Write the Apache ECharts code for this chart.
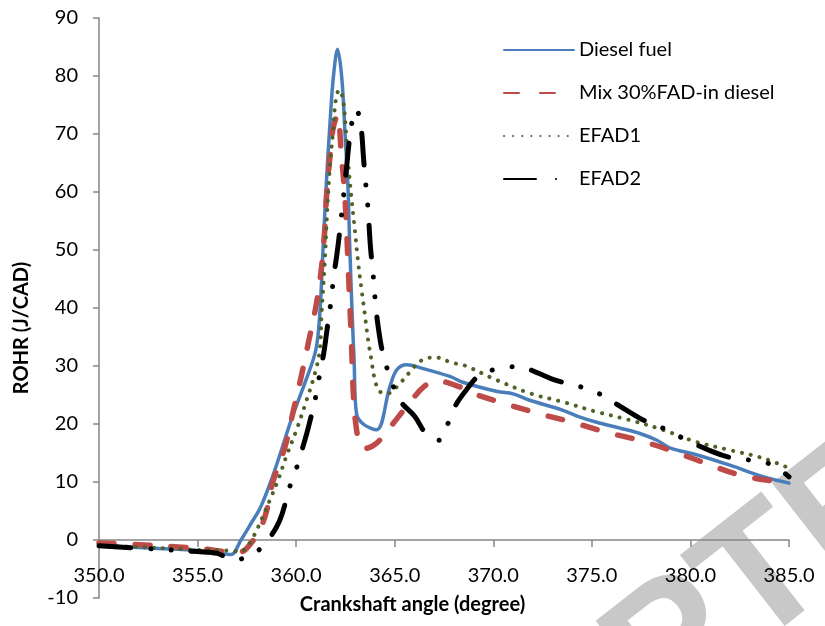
<!DOCTYPE html>
<html>
<head>
<meta charset="utf-8">
<title>ROHR vs crankshaft angle</title>
<script src="https://cdn.jsdelivr.net/npm/echarts@6/dist/echarts.min.js"></script>
<style>
  html, body { margin: 0; padding: 0; background: #fff; }
  #chart { width: 825px; height: 626px; }
</style>
</head>
<body>
<div id="chart"></div>
<script>
// Rate of heat release (J/CAD) against crankshaft angle (degree)
const dieselX = [350, 352, 354, 355, 356, 356.7, 357.2, 357.7, 358.2, 358.8, 359.3, 359.8, 360.5, 361.0, 361.2, 361.37, 361.54, 361.72, 361.88, 362.1, 362.32, 362.48, 362.62, 362.72, 362.84, 362.94, 363.06, 363.4, 364.08, 364.75, 365.1, 365.6, 366.4, 367.8, 368.45, 370.2, 371.0, 371.85, 373.5, 374.4, 375.24, 376.4, 377.4, 378.3, 378.95, 380.3, 382.0, 383.7, 385];
const dieselY = [-1.0, -1.3, -1.6, -1.8, -2.2, -2.5, 0.0, 2.8, 5.7, 10.9, 16.0, 21.2, 27.6, 32.8, 39.0, 50.6, 62.0, 72.0, 79.5, 84.6, 79.5, 70.0, 61.5, 50.6, 39.0, 31.0, 21.8, 20.0, 19.0, 26.4, 29.3, 30.2, 29.6, 28.2, 27.2, 25.6, 25.2, 24.1, 22.4, 21.2, 20.3, 19.3, 18.4, 17.2, 15.9, 14.7, 12.9, 10.9, 9.8];

const mixX = [350, 352, 354, 355.5, 356.5, 357.2, 357.65, 358.16, 358.5, 358.8, 359.43, 359.84, 360.27, 360.62, 361.03, 361.29, 361.45, 361.54, 361.7, 361.86, 362.1, 362.3, 362.45, 362.56, 362.64, 362.72, 362.8, 362.9, 363.0, 363.25, 363.5, 364.08, 364.8, 365.7, 366.5, 367.2, 368.3, 368.96, 370.5, 372.2, 374.0, 375.7, 377.4, 378.95, 380.8, 382.5, 384.5, 385];
const mixY = [-0.5, -0.8, -1.2, -1.6, -2.0, -2.0, -0.8, 1.8, 5.0, 9.8, 16.0, 22.0, 28.4, 34.0, 40.8, 47.1, 53.4, 59.2, 65.5, 70.7, 73.3, 66.0, 60.3, 53.4, 47.1, 40.8, 34.5, 25.3, 20.7, 16.1, 15.8, 16.7, 19.6, 23.4, 26.5, 27.4, 26.4, 25.3, 23.6, 21.9, 20.3, 18.6, 17.2, 15.5, 13.2, 11.2, 10.0, 9.8];

const efad1X = [350, 352, 355, 356.5, 357.15, 357.65, 358.0, 358.16, 358.67, 359.08, 359.5, 360.02, 360.53, 360.95, 361.2, 361.29, 361.45, 361.57, 361.7, 361.88, 362.0, 362.18, 362.38, 362.52, 362.64, 362.8, 362.98, 363.15, 363.32, 363.48, 363.65, 363.82, 364.0, 364.24, 364.67, 365.26, 365.85, 366.2, 366.6, 367.03, 367.96, 368.47, 370.16, 371.85, 373.53, 375.23, 376.9, 378.6, 380.3, 382.0, 383.7, 385];
const efad1Y = [-1.0, -1.2, -1.7, -1.8, -2.0, -0.5, 1.7, 2.9, 6.9, 10.3, 14.4, 19.0, 24.1, 28.7, 32.8, 39.0, 47.7, 56.3, 63.8, 70.7, 75.6, 77.6, 75.9, 70.7, 65.0, 59.2, 53.4, 47.7, 43.1, 39.0, 34.5, 31.0, 27.5, 25.6, 25.3, 27.0, 29.3, 30.6, 31.3, 31.5, 30.5, 30.2, 27.6, 25.3, 23.8, 22.1, 20.7, 19.0, 16.9, 15.5, 14.1, 12.4];

const efad2X = [350, 353, 355, 356, 356.8, 357.3, 357.8, 358.57, 359.17, 359.68, 360.02, 360.32, 360.61, 361.03, 361.2, 361.4, 361.54, 361.8, 361.9, 362.05, 362.2, 362.38, 362.55, 362.72, 362.89, 363.05, 363.2, 363.32, 363.4, 363.48, 363.57, 363.65, 363.77, 363.9, 364.04, 364.16, 364.33, 364.58, 365.26, 366.02, 366.58, 367.3, 367.63, 368.05, 368.64, 369.3, 370.33, 371.34, 372.19, 373.1, 374.1, 375.15, 376.75, 377.6, 378.6, 379.46, 381.15, 382.16, 383.2, 384.2, 385];
const efad2Y = [-1.0, -1.6, -2.0, -2.3, -3.4, -3.2, -2.6, 0.0, 3.4, 9.2, 12.4, 15.8, 19.3, 25.3, 28.7, 32.2, 35.6, 42.0, 45.4, 48.8, 52.9, 58.6, 64.0, 69.5, 73.0, 74.3, 73.0, 70.4, 66.7, 63.2, 60.0, 56.9, 50.5, 46.0, 40.2, 36.8, 33.2, 29.9, 24.1, 21.3, 18.4, 17.2, 19.5, 23.0, 25.9, 28.4, 29.6, 29.9, 28.9, 27.6, 26.7, 25.6, 22.4, 20.7, 19.3, 17.8, 15.2, 14.1, 13.7, 12.9, 10.9];

const seriesNames = ['Diesel fuel', 'Mix 30%FAD-in diesel', 'EFAD1', 'EFAD2'];
const xMin = 350, xMax = 385, xStep = 5;
const yMin = -10, yMax = 90, yStep = 10;

const pairs = (xs, ys) => xs.map((x, i) => [x, ys[i]]);

const FONT = 'Lato';
const AXIS_GREY = '#868686';

const chart = echarts.init(document.getElementById('chart'), null, { renderer: 'canvas' });

function lineSeries(name, data, color, width, type) {
  return {
    name: name,
    type: 'line',
    data: data,
    symbol: 'none',
    smooth: 0.35,
    animation: false,
    lineStyle: { color: color, width: width, type: type, cap: 'round', join: 'round' },
    itemStyle: { color: color }
  };
}

chart.setOption({
  backgroundColor: '#ffffff',
  animation: false,
  grid: { left: 99, right: 36, top: 18, bottom: 28, containLabel: false, outerBoundsMode: 'none' },
  xAxis: {
    type: 'value',
    min: xMin, max: xMax, interval: xStep,
    axisLine: { onZero: true, lineStyle: { color: AXIS_GREY, width: 1.5 } },
    axisTick: { show: true, length: 7, lineStyle: { color: AXIS_GREY, width: 1.5 } },
    // tick labels sit just under the zero line, above the lower plot edge
    axisLabel: {
      margin: -32, color: '#000', fontFamily: FONT, fontSize: 20,
      formatter: v => v.toFixed(1)
    },
    splitLine: { show: false }
  },
  yAxis: {
    type: 'value',
    min: yMin, max: yMax, interval: yStep,
    axisLine: { show: true, onZero: false, lineStyle: { color: AXIS_GREY, width: 1.5 } },
    axisTick: { show: true, length: 6, lineStyle: { color: AXIS_GREY, width: 1.5 } },
    axisLabel: { margin: 21, color: '#000', fontFamily: FONT, fontSize: 20 },
    splitLine: { show: false }
  },
  legend: {
    data: seriesNames,
    orient: 'vertical',
    left: 503, top: 40,
    padding: 0,
    itemWidth: 70, itemHeight: 14, itemGap: 23,
    itemStyle: { opacity: 0 },
    textStyle: { color: '#000', fontFamily: FONT, fontSize: 20 },
    selectedMode: false
  },
  series: [
    lineSeries(seriesNames[0], pairs(dieselX, dieselY), '#4a7ebb', 3.5, 'solid'),
    lineSeries(seriesNames[1], pairs(mixX, mixY), '#be4b48', 5.5, [15, 21]),
    lineSeries(seriesNames[2], pairs(efad1X, efad1Y), '#4f6228', 4, [0.1, 9]),
    lineSeries(seriesNames[3], pairs(efad2X, efad2Y), '#000000', 5, [32, 20, 0.1, 20, 0.1, 20])
  ],
  graphic: [
    {
      type: 'text', left: 'center', top: 595,
      style: { text: 'Crankshaft angle (degree)', fill: '#000', font: 'bold 20px Lato' }
    },
    {
      type: 'text', x: 22, y: 328, rotation: Math.PI / 2,
      style: { text: 'ROHR (J/CAD)', fill: '#000', font: 'bold 20px Lato', align: 'center', verticalAlign: 'middle' }
    },
    {
      // diagonal manuscript stamp, kept underneath the axes, labels and curves
      type: 'text', x: 240, y: 990, rotation: 38 * Math.PI / 180, z: -10,
      style: {
        text: 'ACCEPTED MANUSCRIPT', fill: '#c8c8c8',
        font: 'bold 175px "Liberation Sans"', align: 'left', verticalAlign: 'middle'
      }
    }
  ]
});
</script>
</body>
</html>
